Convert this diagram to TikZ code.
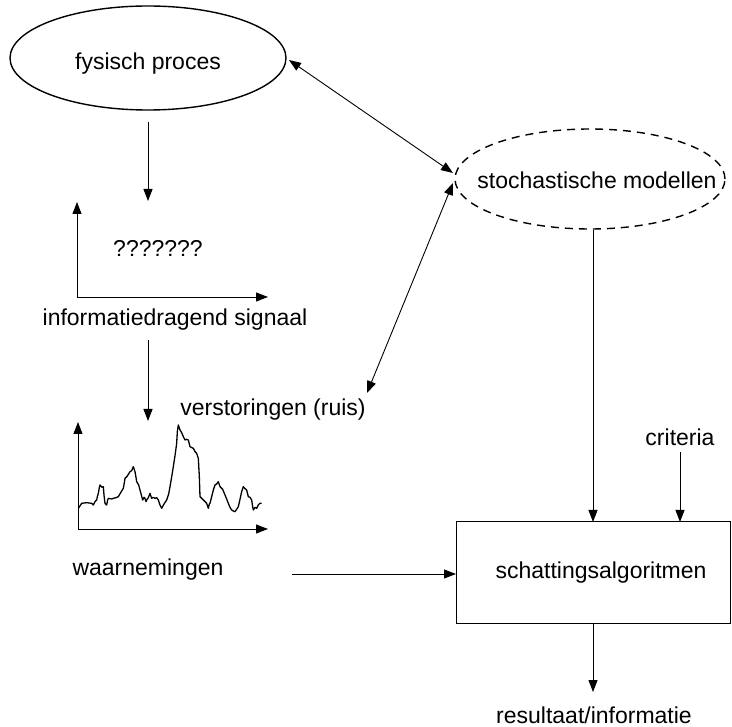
\documentclass[tikz,border=0pt]{standalone}
\usepackage{fontspec}
\setmainfont{Liberation Sans}
\usetikzlibrary{shapes.geometric,arrows.meta}
\begin{document}
\begin{tikzpicture}[x=1pt,y=-1pt,
  lbl/.style={inner sep=0pt,font=\fontsize{23}{27}\selectfont},
  conn/.style={line width=0.9pt,-{Triangle[length=12pt,width=9pt]}},
  dconn/.style={line width=0.9pt,{Triangle[length=12pt,width=9pt]}-{Triangle[length=12pt,width=9pt]}},
  axis/.style={line width=0.9pt,-{Triangle[length=12pt,width=9pt]}},
  ell/.style={ellipse,draw,line width=1.4pt,inner sep=0pt,font=\fontsize{23}{27}\selectfont}]
\useasboundingbox (0,0) rectangle (732,727);

% ellipses
\node[ell,minimum width=276pt,minimum height=104pt] (fp) at (148,58) {};
\node[lbl] (fpt) at (148,64) {fysisch proces};
\node[ell,dash pattern=on 8pt off 6pt,minimum width=270pt,minimum height=100pt] (sm) at (590,179) {};
\node[lbl] (smt) at (597,180) {stochastische modellen};

% box
\node[draw,line width=1pt,minimum width=274pt,minimum height=102pt,inner sep=0pt] (box) at (593,573) {};
\node[lbl] (boxt) at (601,573) {schattingsalgoritmen};

% texts
\node[lbl] (q) at (158,248) {???????};
\node[lbl] (info) at (175,320) {informatiedragend signaal};
\node[lbl] (ruis) at (273,410) {verstoringen (ruis)};
\node[lbl] (waar) at (148,570) {waarnemingen};
\node[lbl] (crit) at (680,437) {criteria};
\node[lbl] (res) at (594,715) {resultaat/informatie};

% coordinates
\coordinate (fpd) at (148,122);
\coordinate (a1tip) at (148,201);
\coordinate (infod) at (148,340);
\coordinate (a2tip) at (148,421);
\coordinate (o1) at (77,297);
\coordinate (y1) at (77,202);
\coordinate (x1) at (268,297);
\coordinate (o2) at (78,529);
\coordinate (y2) at (78,422);
\coordinate (x2) at (268,529);
\coordinate (fpr) at (289,60);
\coordinate (smw1) at (453,173);
\coordinate (smw2) at (453,183);
\coordinate (ruistip) at (367,393);
\coordinate (waarr) at (292,574);
\coordinate (critd) at (680,452);
\coordinate (smb) at (593,230);
\coordinate (boxin1) at (593,522);
\coordinate (boxin2) at (680,522);
\coordinate (boxout) at (593,624);
\coordinate (restip) at (593,692);
\coordinate (boxw) at (456,574);

% connectors
\draw[conn] (fpd) -- (a1tip);
\draw[conn] (infod) -- (a2tip);
\draw[dconn] (fpr) -- (smw1);
\draw[dconn] (smw2) -- (ruistip);
\draw[conn] (waarr) -- (boxw);
\draw[conn] (smb) -- (boxin1);
\draw[conn] (critd) -- (boxin2);
\draw[conn] (boxout) -- (restip);

% axes
\draw[axis] (o1) -- (y1);
\draw[axis] (o1) -- (x1);
\draw[axis] (o2) -- (y2);
\draw[axis] (o2) -- (x2);

% noise signal
\begin{scope}[shift={(60,400)},scale=1/3]
\draw[line width=1.3pt,line join=round] (55,325) -- (65,310) -- (80,308) -- (95,310) -- (100,315) -- (105,305) -- (110,300) -- (112,290) -- (115,280) -- (118,262) -- (120,255) -- (126,262) -- (130,260) -- (132,285) -- (135,310) -- (140,315) -- (143,300) -- (145,295) -- (155,297) -- (160,295) -- (168,293) -- (175,290) -- (182,278) -- (190,265) -- (193,248) -- (195,235) -- (202,228) -- (210,215) -- (215,212) -- (220,200) -- (225,215) -- (228,232) -- (230,245) -- (236,255) -- (240,270) -- (244,285) -- (248,300) -- (252,292) -- (255,295) -- (258,305) -- (260,300) -- (265,293) -- (270,280) -- (275,295) -- (280,292) -- (285,295) -- (290,293) -- (295,300) -- (300,315) -- (305,325) -- (312,312) -- (320,300) -- (326,282) -- (330,260) -- (336,225) -- (340,200) -- (346,160) -- (350,130) -- (352,95) -- (355,75) -- (360,90) -- (365,98) -- (370,110) -- (375,120) -- (380,118) -- (385,120) -- (390,140) -- (400,145) -- (405,155) -- (410,160) -- (415,175) -- (418,230) -- (420,290) -- (425,295) -- (430,300) -- (435,305) -- (440,310) -- (445,325) -- (448,312) -- (450,310) -- (455,290) -- (460,270) -- (465,255) -- (470,252) -- (475,245) -- (480,260) -- (488,268) -- (495,285) -- (500,297) -- (505,310) -- (510,322) -- (515,330) -- (520,333) -- (525,335) -- (530,328) -- (535,320) -- (540,298) -- (545,275) -- (550,260) -- (555,266) -- (560,270) -- (565,290) -- (570,292) -- (575,300) -- (578,320) -- (580,330) -- (585,322) -- (590,325) -- (595,315) -- (600,310) -- (605,310);
\end{scope}
\end{tikzpicture}
\end{document}
